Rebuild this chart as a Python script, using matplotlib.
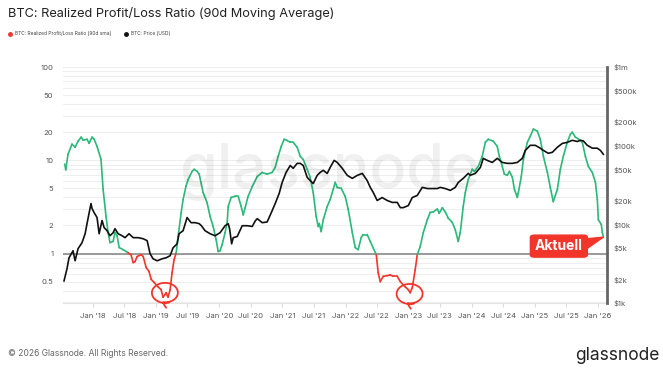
import matplotlib.pyplot as plt
import matplotlib.dates as mdates
from matplotlib.collections import LineCollection
from matplotlib.patches import FancyBboxPatch, Polygon
from matplotlib.lines import Line2D
import numpy as np
import pandas as pd

plt.rcParams['font.family'] = ['Inter', 'DejaVu Sans']

# Realized Profit/Loss Ratio (90d sma)
ratio_dates = [
    '2017-07-21', '2017-07-27', '2017-08-09', '2017-09-01', '2017-09-19', '2017-10-06',
    '2017-10-24', '2017-11-04', '2017-11-27', '2017-12-09', '2017-12-26', '2018-01-07',
    '2018-01-24', '2018-02-16', '2018-02-28', '2018-03-17', '2018-03-29', '2018-04-09',
    '2018-04-27', '2018-05-08', '2018-05-20', '2018-06-01', '2018-06-24', '2018-07-23',
    '2018-08-09', '2018-08-21', '2018-09-01', '2018-09-13', '2018-10-06', '2018-10-18',
    '2018-11-04', '2018-11-21', '2018-12-03', '2018-12-20', '2019-01-12', '2019-01-30',
    '2019-02-10', '2019-02-28', '2019-03-11', '2019-03-23', '2019-04-03', '2019-04-15',
    '2019-04-27', '2019-05-08', '2019-05-26', '2019-06-06', '2019-06-23', '2019-07-05',
    '2019-07-28', '2019-08-09', '2019-08-26', '2019-09-07', '2019-09-30', '2019-10-23',
    '2019-11-09', '2019-11-27', '2019-12-14', '2019-12-26', '2020-01-06', '2020-01-18',
    '2020-02-04', '2020-02-16', '2020-02-22', '2020-03-10', '2020-04-02', '2020-04-20',
    '2020-05-07', '2020-05-19', '2020-05-30', '2020-06-16', '2020-07-10', '2020-08-08',
    '2020-09-06', '2020-10-04', '2020-11-02', '2020-11-20', '2020-12-07', '2020-12-25',
    '2021-01-11', '2021-01-28', '2021-02-15', '2021-03-04', '2021-03-27', '2021-04-14',
    '2021-05-01', '2021-05-24', '2021-06-10', '2021-06-28', '2021-07-15', '2021-07-27',
    '2021-08-02', '2021-08-13', '2021-08-25', '2021-09-17', '2021-10-04', '2021-10-22',
    '2021-11-02', '2021-11-14', '2021-12-07', '2021-12-30', '2022-01-16', '2022-02-09',
    '2022-02-26', '2022-03-15', '2022-04-02', '2022-04-13', '2022-05-06', '2022-05-24',
    '2022-06-10', '2022-06-28', '2022-07-09', '2022-07-21', '2022-08-07', '2022-08-30',
    '2022-09-17', '2022-10-04', '2022-10-27', '2022-11-14', '2022-12-01', '2022-12-12',
    '2022-12-30', '2023-01-10', '2023-01-22', '2023-02-08', '2023-02-20', '2023-03-09',
    '2023-03-27', '2023-04-19', '2023-05-06', '2023-05-24', '2023-06-16', '2023-06-27',
    '2023-07-15', '2023-08-01', '2023-08-18', '2023-09-11', '2023-09-28', '2023-10-15',
    '2023-10-27', '2023-11-13', '2023-11-25', '2023-12-12', '2024-01-04', '2024-01-16',
    '2024-02-08', '2024-03-02', '2024-03-20', '2024-04-06', '2024-05-05', '2024-05-28',
    '2024-06-09', '2024-06-26', '2024-07-08', '2024-07-25', '2024-08-06', '2024-08-23',
    '2024-09-04', '2024-09-21', '2024-09-27', '2024-10-14', '2024-10-26', '2024-11-18',
    '2024-12-05', '2024-12-23', '2025-01-15', '2025-02-01', '2025-02-19', '2025-03-14',
    '2025-03-31', '2025-04-17', '2025-05-11', '2025-05-28', '2025-06-14', '2025-07-07',
    '2025-07-25', '2025-08-05', '2025-08-23', '2025-09-09', '2025-10-02', '2025-10-20',
    '2025-11-06', '2025-11-29', '2025-12-17', '2025-12-28', '2026-01-03', '2026-01-20',
    '2026-01-26', '2026-02-01',
]
ratio_values = [
    9.1, 7.9, 11.6, 14.9, 13.8, 16.0,
    17.7, 16.4, 16.8, 15.2, 17.7, 16.8,
    14.1, 10.2, 4.9, 2.5, 1.68, 1.31,
    1.35, 1.68, 1.55, 1.16, 1.10, 1.02,
    0.97, 0.80, 0.82, 0.93, 0.97, 0.93,
    0.71, 0.64, 0.53, 0.49, 0.44, 0.41,
    0.34, 0.38, 0.34, 0.41, 0.62, 0.86,
    1.02, 1.52, 2.76, 3.8, 5.3, 6.2,
    7.6, 8.0, 7.6, 7.1, 4.5, 3.5,
    2.5, 1.95, 1.41, 1.05, 1.07, 1.25,
    1.68, 2.15, 3.2, 4.0, 4.1, 4.1,
    3.2, 2.6, 3.1, 4.1, 5.2, 6.7,
    7.4, 7.1, 7.4, 8.4, 11.0, 14.1,
    16.8, 16.3, 15.6, 15.6, 13.8, 11.0,
    10.2, 8.0, 6.6, 4.5, 2.5, 1.95,
    2.1, 1.72, 2.3, 3.2, 3.8, 4.9,
    5.8, 5.1, 5.0, 4.1, 3.0, 1.68,
    1.16, 1.10, 1.49, 1.6, 1.6, 1.35,
    1.15, 0.97, 0.62, 0.50, 0.57, 0.58,
    0.59, 0.57, 0.57, 0.50, 0.46, 0.44,
    0.41, 0.38, 0.43, 0.67, 0.97, 1.19,
    1.68, 2.3, 2.76, 2.8, 3.0, 2.7,
    3.1, 2.8, 2.4, 2.15, 1.8, 1.35,
    1.68, 3.2, 4.5, 6.2, 8.0, 7.6,
    8.6, 11.0, 15.6, 16.8, 16.0, 14.1,
    11.0, 8.6, 7.1, 6.9, 7.6, 6.6,
    4.9, 4.0, 4.5, 6.7, 10.2, 15.6,
    18.1, 21.6, 20.5, 16.8, 11.0, 7.4,
    5.1, 3.6, 4.9, 8.0, 11.0, 15.6,
    19.0, 20.0, 17.7, 17.0, 15.6, 11.0,
    8.6, 7.4, 5.8, 3.8, 2.3, 2.05,
    1.68, 1.50,
]

# BTC price (USD)
price_dates = [
    '2017-07-17', '2017-08-03', '2017-08-15', '2017-09-07', '2017-09-19', '2017-10-06',
    '2017-10-29', '2017-11-16', '2017-11-27', '2017-12-20', '2017-12-26', '2018-01-07',
    '2018-01-24', '2018-02-05', '2018-02-22', '2018-03-06', '2018-03-23', '2018-04-09',
    '2018-04-27', '2018-05-08', '2018-05-26', '2018-06-18', '2018-07-05', '2018-07-28',
    '2018-08-21', '2018-09-19', '2018-10-18', '2018-11-10', '2018-11-27', '2018-12-14',
    '2019-01-07', '2019-02-05', '2019-02-28', '2019-03-23', '2019-04-09', '2019-05-02',
    '2019-05-14', '2019-06-06', '2019-06-29', '2019-07-22', '2019-08-15', '2019-09-07',
    '2019-09-20', '2019-10-11', '2019-11-09', '2019-12-08', '2020-01-06', '2020-02-04',
    '2020-02-22', '2020-03-01', '2020-03-13', '2020-03-22', '2020-04-14', '2020-05-13',
    '2020-06-11', '2020-07-10', '2020-07-28', '2020-08-08', '2020-09-06', '2020-10-04',
    '2020-10-28', '2020-11-20', '2020-12-13', '2020-12-30', '2021-01-22', '2021-02-15',
    '2021-03-04', '2021-03-27', '2021-04-14', '2021-05-01', '2021-05-24', '2021-06-10',
    '2021-06-28', '2021-07-21', '2021-08-07', '2021-08-25', '2021-09-17', '2021-10-04',
    '2021-10-27', '2021-11-14', '2021-12-13', '2022-01-11', '2022-02-09', '2022-03-10',
    '2022-04-08', '2022-05-06', '2022-05-24', '2022-06-10', '2022-07-03', '2022-08-01',
    '2022-08-30', '2022-09-28', '2022-10-27', '2022-11-14', '2022-12-01', '2022-12-30',
    '2023-01-22', '2023-02-20', '2023-03-21', '2023-04-19', '2023-05-18', '2023-06-16',
    '2023-07-03', '2023-08-01', '2023-08-30', '2023-09-28', '2023-10-15', '2023-11-13',
    '2023-12-12', '2023-12-24', '2024-01-22', '2024-02-20', '2024-03-08', '2024-03-31',
    '2024-04-29', '2024-05-28', '2024-06-26', '2024-07-25', '2024-08-23', '2024-09-21',
    '2024-10-20', '2024-11-06', '2024-12-05', '2025-01-03', '2025-02-01', '2025-02-19',
    '2025-03-19', '2025-04-12', '2025-05-11', '2025-06-09', '2025-07-07', '2025-08-05',
    '2025-09-03', '2025-09-21', '2025-10-08', '2025-10-31', '2025-11-29', '2025-12-28',
    '2026-01-15', '2026-02-01',
]
price_values = [
    1910, 2720, 3760, 4610, 3440, 4900,
    5840, 7600, 10200, 18400, 15900, 14100,
    12200, 7600, 11200, 9100, 8300, 7160,
    7820, 8800, 7600, 7160, 6770, 7600,
    6770, 6770, 6560, 6200, 4230, 3650,
    3440, 3650, 3760, 3990, 5040, 5650,
    7600, 8300, 12200, 10500, 10500, 10200,
    9600, 8300, 7600, 7160, 7820, 9600,
    10200, 8800, 5650, 6770, 7000, 9600,
    9600, 9400, 11100, 11800, 10500, 10700,
    14000, 18400, 24700, 34000, 45700, 56000,
    51500, 59600, 59600, 56000, 39600, 36100,
    33000, 41900, 45700, 48600, 44400, 52800,
    65000, 61200, 51500, 41900, 38400, 41900,
    44400, 36100, 29500, 25500, 20100, 21900,
    20100, 19000, 19000, 16300, 16300, 17300,
    21900, 23300, 29500, 28500, 28500, 28500,
    29500, 28500, 27000, 29500, 34000, 38400,
    44400, 42000, 44400, 52800, 69000, 65000,
    61200, 69000, 61200, 59600, 59600, 61200,
    69000, 87000, 101000, 101000, 92900, 87000,
    80000, 82400, 95600, 107000, 110000, 117000,
    113000, 117000, 115000, 101000, 92900, 92900,
    87000, 77700,
]

left_ticks = [0.5, 1, 2, 5, 10, 20, 50, 100]
left_labels = ['0.5', '1', '2', '5', '10', '20', '50', '100']
right_ticks = [1e3, 2e3, 5e3, 1e4, 2e4, 5e4, 1e5, 2e5, 5e5, 1e6]
right_labels = ['$1k', '$2k', '$5k', '$10k', '$20k', '$50k', '$100k', '$200k', '$500k', '$1m']

GREEN = '#2cb879'
RED = '#f2352b'
W, H = 663, 368

fig = plt.figure(figsize=(W / 100, H / 100), dpi=100)
fig.patch.set_facecolor('white')
ax = fig.add_axes([63 / W, 1 - 303 / H, (607 - 63) / W, (303 - 67) / H])

# ratio line, red below 1, green above
rd = mdates.date2num(pd.to_datetime(ratio_dates))
rv = np.array(ratio_values)
pts = np.column_stack([rd, rv])
segs = np.stack([pts[:-1], pts[1:]], axis=1)
cols = [RED if np.sqrt(a * b) < 1 else GREEN for a, b in zip(rv[:-1], rv[1:])]
ax.add_collection(LineCollection(segs, colors=cols, linewidths=1.2, zorder=3,
                                 capstyle='round', joinstyle='round'))

ax.set_yscale('log')
ax.set_ylim(0.295, 100)
ax.set_xlim(pd.Timestamp('2017-07-11'), pd.Timestamp('2026-02-22'))
ax.set_yticks(left_ticks)
ax.set_yticklabels(left_labels)
minor = [v * m for v in [0.1, 1, 10] for m in [3, 4, 6, 7, 8, 9]]
ax.set_yticks([m for m in minor if 0.295 < m < 100], minor=True)
ax.yaxis.set_minor_formatter(plt.NullFormatter())
ax.grid(which='both', axis='y', color='#eeeeee', lw=0.8)
ax.set_axisbelow(True)
ax.axhline(1, color='#8a8a8a', lw=1.2, zorder=2)
ax.tick_params(axis='y', which='both', length=0, labelsize=5.5, labelcolor='#555555', pad=7)

ax.xaxis.set_major_locator(mdates.MonthLocator(bymonth=[1, 7]))
ax.xaxis.set_major_formatter(mdates.DateFormatter("%b '%y"))
ax.tick_params(axis='x', length=3, color='#dddddd', labelsize=5.5, labelcolor='#555555', pad=4)
for s in ['left', 'top', 'right']:
    ax.spines[s].set_visible(False)
ax.spines['bottom'].set_color('#e3e3e3')

# price on the right axis
ax2 = ax.twinx()
ax2.plot(pd.to_datetime(price_dates), price_values, color='#111111', lw=1.2, zorder=4)
ax2.set_yscale('log')
ax2.set_ylim(1e3, 1e6)
ax2.set_yticks(right_ticks)
ax2.set_yticklabels(right_labels)
ax2.yaxis.set_minor_locator(plt.NullLocator())
ax2.tick_params(axis='y', length=0, labelsize=5.5, labelcolor='#555555', pad=5)
for s in ['left', 'top', 'bottom']:
    ax2.spines[s].set_visible(False)
ax2.spines['right'].set_color('#666666')
ax2.spines['right'].set_linewidth(2)

# watermark
fig.text(330 / W, 1 - 172 / H, 'glassnode', fontsize=44, color='#000000', alpha=0.06,
         ha='center', va='center', fontweight='medium')

# titles, legend, footer
fig.text(8 / W, 1 - 13 / H, 'BTC: Realized Profit/Loss Ratio (90d Moving Average)',
         fontsize=9.2, color='#222222', va='center')
fig.add_artist(Line2D([10 / W], [1 - 34 / H], marker='o', ms=2.5, color=RED, lw=0,
                      transform=fig.transFigure))
fig.text(15 / W, 1 - 34 / H, 'BTC: Realized Profit/Loss Ratio (90d sma)', fontsize=3.5,
         color='#444444', va='center')
fig.add_artist(Line2D([126 / W], [1 - 34 / H], marker='o', ms=2.5, color='#111111', lw=0,
                      transform=fig.transFigure))
fig.text(131 / W, 1 - 34 / H, 'BTC: Price (USD)', fontsize=3.5, color='#444444', va='center')
fig.text(8 / W, 1 - 354 / H, '\u00a9 2026 Glassnode. All Rights Reserved.', fontsize=6.1,
         color='#666666', va='center')
fig.text(660 / W, 1 - 355 / H, 'glassnode', fontsize=12.5, color='#222222', va='center',
         ha='right')

to_fig = fig.transFigure.inverted()


def px(x, y):
    return to_fig.transform((x, y))


# hand drawn circles around the two bottoms
def loop(date, value):
    cx, cy = ax.transData.transform((mdates.date2num(pd.Timestamp(date)), value))
    t = np.linspace(-0.55 * np.pi, 1.6 * np.pi, 80)
    r = 1 + 0.08 * (t - t[0]) / (t[-1] - t[0])
    xs = cx + 12.5 * r * np.cos(t)
    ys = cy + 9.5 * r * np.sin(t)
    xs = np.concatenate([[cx + 1, cx - 1], xs])
    ys = np.concatenate([[cy - 15, cy - 12], ys])
    p = np.array([px(a, b) for a, b in zip(xs, ys)])
    fig.add_artist(Line2D(p[:, 0], p[:, 1], color=RED, lw=1.3, transform=fig.transFigure,
                          solid_capstyle='round'))


loop('2019-02-22', 0.38)
loop('2023-01-08', 0.37)

# "Aktuell" callout pointing at the last value
tx, ty = ax.transData.transform((rd[-1], rv[-1]))
bx1, bx0 = tx - 16, tx - 73
by0, by1 = ty - 20, ty + 2
ptr = np.array([px(tx - 20, ty - 2), px(tx - 20, ty - 14), px(tx, ty)])
fig.add_artist(Polygon(ptr, closed=True, color=RED, transform=fig.transFigure, zorder=10))
(fx0, fy0), (fx1, fy1) = px(bx0, by0), px(bx1, by1)
fig.add_artist(FancyBboxPatch((fx0, fy0), fx1 - fx0, fy1 - fy0,
                              boxstyle='round,pad=0,rounding_size=0.006',
                              color=RED, transform=fig.transFigure, zorder=10))
fig.text((fx0 + fx1) / 2, (fy0 + fy1) / 2, 'Aktuell', color='white', fontsize=10,
         fontweight='bold', ha='center', va='center', zorder=11)

fig.savefig('out.png', dpi=100)
